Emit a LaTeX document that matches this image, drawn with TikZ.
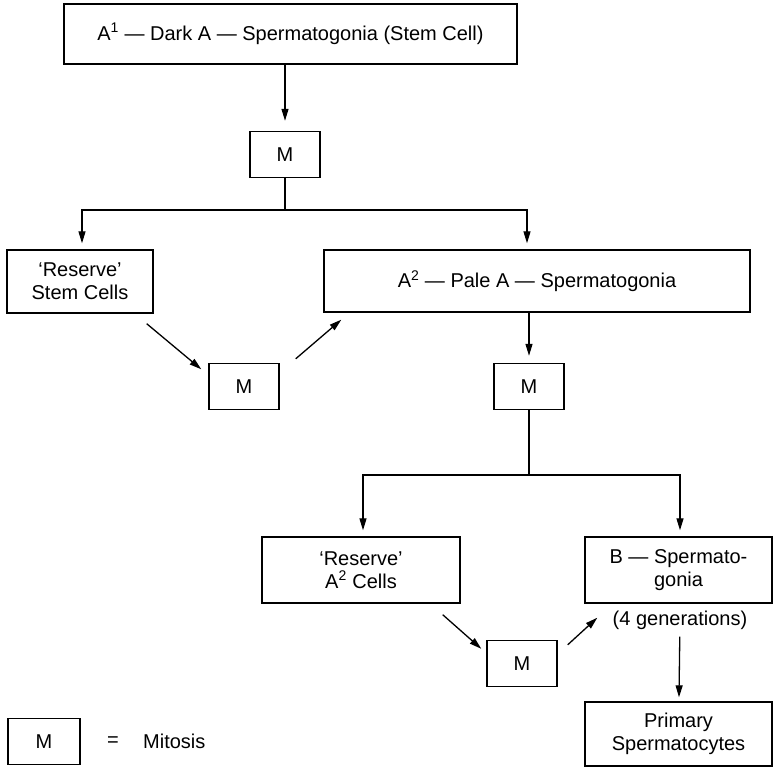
\documentclass[tikz,border=0pt]{standalone}
\usepackage{fontspec}
\setmainfont{Liberation Sans}
\usetikzlibrary{arrows.meta}
\newcommand{\labfont}{\fontsize{20}{23}\selectfont}

\begin{document}
\begin{tikzpicture}[x=1pt, y=-1pt,
        box/.style={draw, line width=1.4pt, inner sep=0pt, align=center, font=\labfont},
        mbox/.style={box, minimum width=70pt, minimum height=46pt},
        link/.style={line width=1.3pt},
        arr/.style={link, -{Triangle[length=12pt,width=7pt]}, shorten >=6pt},
        slant/.style={link, -{Triangle[length=12pt,width=7pt]}}]
        \useasboundingbox (0,0) rectangle (773,767);

        \node[box, minimum width=453pt, minimum height=60pt] (darkA) at (290.5,34) {A\textsuperscript{1} — Dark A — Spermatogonia (Stem Cell)};
        \node[mbox] (m1) at (285,154.5) {M};
        \node[box, minimum width=146pt, minimum height=63pt] (resStem) at (80,281.5) {‘Reserve’\\Stem Cells};
        \node[box, minimum width=426pt, minimum height=62pt] (paleA) at (537,281) {A\textsuperscript{2} — Pale A — Spermatogonia};
        \node[mbox] (m2) at (244,386.5) {M};
        \node[mbox] (m3) at (529,386.5) {M};
        \node[box, minimum width=198pt, minimum height=66pt] (resA) at (361,570) {‘Reserve’\\A\textsuperscript{2} Cells};
        \node[box, minimum width=187pt, minimum height=66pt] (bSperm) at (678.5,570) {B — Spermato-\\gonia};
        \node[font=\labfont, inner sep=0pt] (gens) at (680,620) {(4 generations)};
        \node[mbox] (m4) at (522,663.5) {M};
        \node[box, minimum width=187pt, minimum height=64pt] (primary) at (678.5,734) {Primary\\Spermatocytes};
        \node[mbox, minimum width=72pt] (key) at (44,741.5) {M};
        \node[font=\labfont, inner sep=0pt] (keyEq) at (113,741.5) {=};
        \node[font=\labfont, inner sep=0pt, anchor=west] (keyText) at (143,741.5) {Mitosis};

        \coordinate (split1) at (m1 |- 0,210);
        \coordinate (split2) at (m3 |- 0,475);

        \draw[arr, shorten >=10pt] (darkA.south -| m1) -- (m1);
        \draw[link] (m1) -- (split1);
        \draw[arr] (split1) -| ([xshift=2pt]resStem.north);
        \draw[arr] (split1) -| ([xshift=-10pt]paleA.north);
        \draw[slant] ([shift={(-7,10)}]resStem.south east) -- ([shift={(-7,6.5)}]m2.north west);
        \draw[slant] ([shift={(16,-4)}]m2.north east) -- ([shift={(18,7)}]paleA.south west);
        \draw[arr, shorten >=7pt] (paleA.south -| m3) -- (m3);
        \draw[link] (m3) -- (split2);
        \draw[arr] (split2) -| ([xshift=2pt]resA.north);
        \draw[arr] (split2) -| ([xshift=1.5pt]bSperm.north);
        \draw[slant] ([shift={(-18,11)}]resA.south east) -- ([shift={(-5,9)}]m4.north west);
        \draw[slant] ([shift={(10,5)}]m4.north east) -- ([shift={(13,14)}]bSperm.south west);
        \draw[arr, shorten <=7pt, shorten >=4pt] (gens) -- (primary);
\end{tikzpicture}
\end{document}
